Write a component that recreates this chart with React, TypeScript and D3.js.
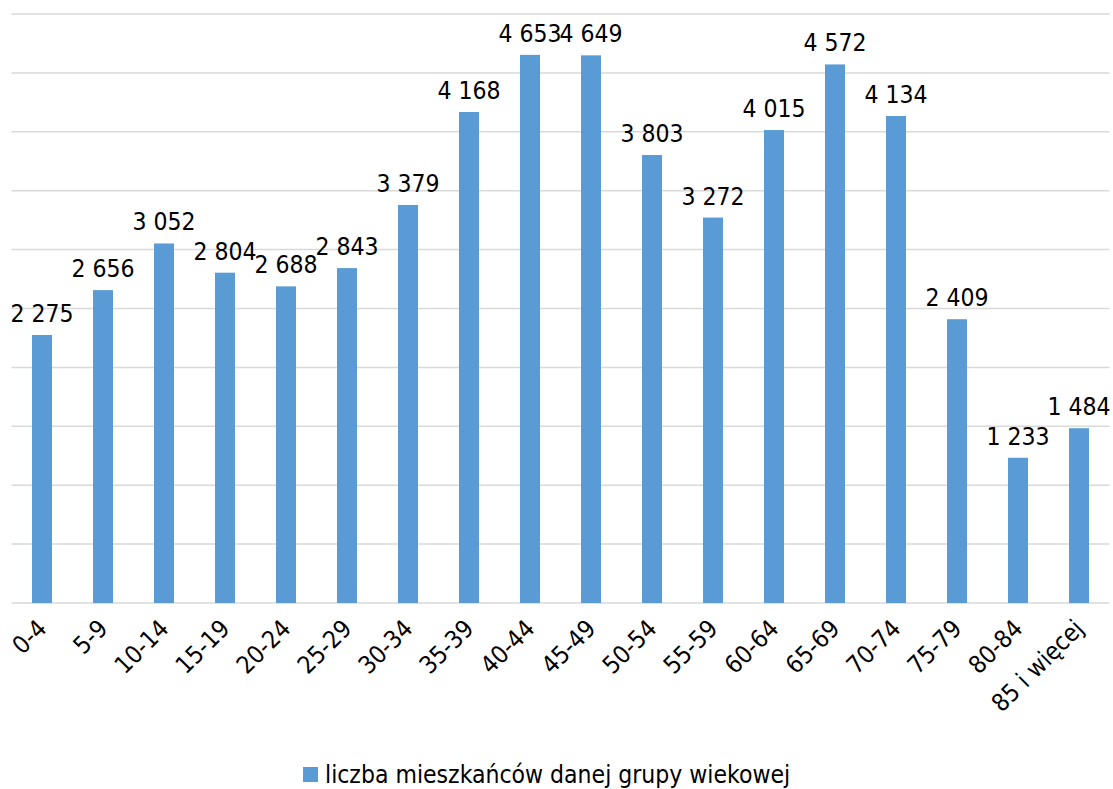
import React from "react";
import * as d3 from "d3";

const categories = [
  "0-4", "5-9", "10-14", "15-19", "20-24", "25-29", "30-34", "35-39", "40-44",
  "45-49", "50-54", "55-59", "60-64", "65-69", "70-74", "75-79", "80-84", "85 i więcej",
];
const residents = [
  2275, 2656, 3052, 2804, 2688, 2843, 3379, 4168, 4653,
  4649, 3803, 3272, 4015, 4572, 4134, 2409, 1233, 1484,
];
const gridTicks = [0, 500, 1000, 1500, 2000, 2500, 3000, 3500, 4000, 4500, 5000];
const seriesName = "liczba mieszkańców danej grupy wiekowej";

const W = 1113;
const H = 789;
const BAR = "#5b9bd5";
const FONT = "'DejaVu Sans Condensed', 'DejaVu Sans', Verdana, sans-serif";
const FS = 24.5;

const plFormat = d3.formatLocale({
  decimal: ",",
  thousands: " ",
  grouping: [3],
  currency: ["", " zł"],
}).format(",d");

export default function App() {
  const x = d3.scaleBand<string>().domain(categories).range([11.5, 1109.5]).paddingInner(0.672).paddingOuter(0.336);
  const y = d3.scaleLinear().domain([0, 5000]).range([603, 14]);
  const bw = x.bandwidth();

  return (
    <svg
      width={W}
      height={H}
      style={{ position: "absolute", left: 0, top: 0, background: "#fff", fontStretch: "condensed" }}
      fontFamily={FONT}
    >
      {gridTicks.map((t) => (
        <line key={t} x1={11.5} x2={1109.5} y1={y(t)} y2={y(t)} stroke="#d9d9d9" strokeWidth={1.5} />
      ))}
      {categories.map((c, i) => (
        <rect key={c} x={x(c)!} y={y(residents[i])} width={bw} height={y(0) - y(residents[i])} fill={BAR} />
      ))}
      {categories.map((c, i) => (
        <text key={"v" + c} x={x(c)! + bw / 2} y={y(residents[i]) - 13} textAnchor="middle" fontSize={FS} fill="#000">
          {plFormat(residents[i])}
        </text>
      ))}
      {categories.map((c) => (
        <text
          key={"l" + c}
          transform={`translate(${x(c)! + bw / 2},${624}) rotate(-45)`}
          textAnchor="end"
          dy="0.35em"
          fontSize={FS}
          fill="#000"
        >
          {c}
        </text>
      ))}
      <rect x={303} y={767} width={15} height={15} fill={BAR} />
      <text x={325} y={783} fontSize={FS} fill="#000">{seriesName}</text>
    </svg>
  );
}
